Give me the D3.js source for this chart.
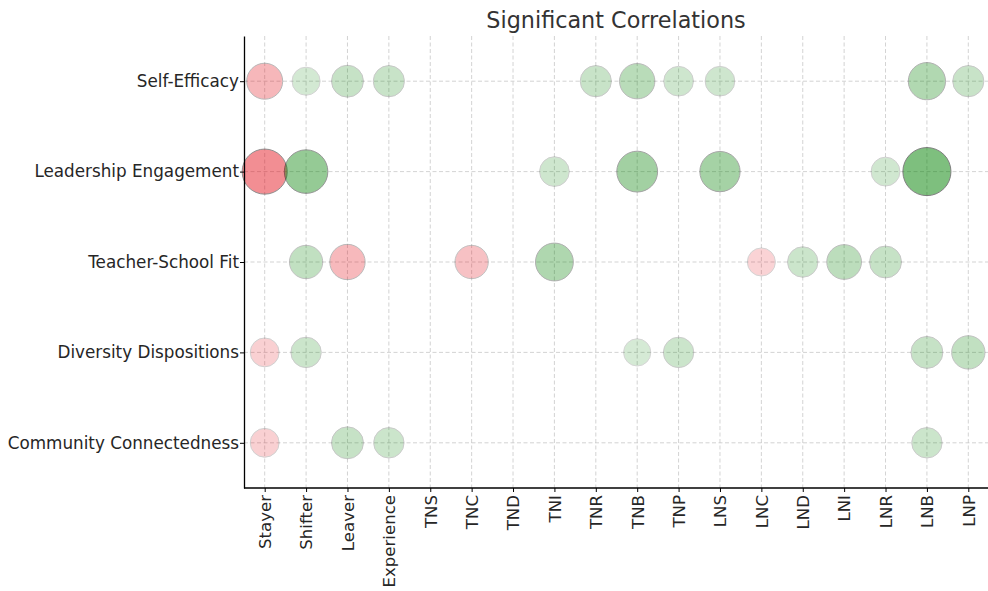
<!DOCTYPE html>
<html>
<head>
<meta charset="utf-8">
<script src="https://cdn.jsdelivr.net/npm/d3@7"></script>
<style>
  body { margin: 0; background: #fff; }
  text { font-family: "DejaVu Sans", sans-serif; }
</style>
</head>
<body>
<div id="chart"></div>
<script>
// Categories
const measures = ["Stayer", "Shifter", "Leaver", "Experience", "TNS", "TNC", "TND", "TNI", "TNR",
                  "TNB", "TNP", "LNS", "LNC", "LND", "LNI", "LNR", "LNB", "LNP"];
const constructs = ["Self-Efficacy", "Leadership Engagement", "Teacher-School Fit",
                    "Diversity Dispositions", "Community Connectedness"];

// Correlation per construct (null = not significant), in measure order
const selfEfficacy   = [-0.28, 0.17, 0.22, 0.21, null, null, null, null, 0.21, 0.27, 0.19, 0.19, null, null, null, null, 0.30, 0.21];
const leadership     = [-0.44, 0.41, null, null, null, null, null, 0.19, null, 0.36, null, 0.35, null, null, null, 0.18, 0.50, null];
const schoolFit      = [null, 0.24, -0.27, null, null, -0.24, null, 0.31, null, null, null, null, -0.17, 0.20, 0.26, 0.22, null, null];
const diversity      = [-0.18, 0.20, null, null, null, null, null, null, null, 0.16, 0.20, null, null, null, null, null, 0.22, 0.24];
const community      = [-0.18, null, 0.22, 0.20, null, null, null, null, null, null, null, null, null, null, null, null, 0.20, null];

const rows = [selfEfficacy, leadership, schoolFit, diversity, community];

const W = 988, H = 591;
const margin = { top: 36, right: -1, bottom: 103, left: 244 };

const svg = d3.select("#chart").append("svg")
  .attr("width", W)
  .attr("height", H);

const x = d3.scalePoint()
  .domain(measures)
  .range([margin.left, W - margin.right])
  .padding(0.5);

const y = d3.scalePoint()
  .domain(constructs)
  .range([margin.top, H - margin.bottom])
  .padding(0.5);

const r = d3.scaleSqrt().domain([0, 1]).range([0, 34]);

// grid
const grid = svg.append("g");
grid.selectAll("line.gx")
  .data(measures)
  .enter().append("line")
    .attr("x1", d => x(d)).attr("x2", d => x(d))
    .attr("y1", margin.top).attr("y2", H - margin.bottom)
    .attr("stroke", "#c8c8c8").attr("stroke-width", 0.8)
    .attr("stroke-dasharray", "4,2.5");
grid.selectAll("line.gy")
  .data(constructs)
  .enter().append("line")
    .attr("x1", margin.left).attr("x2", W)
    .attr("y1", d => y(d)).attr("y2", d => y(d))
    .attr("stroke", "#c8c8c8").attr("stroke-width", 0.8)
    .attr("stroke-dasharray", "4,2.5");

// bubbles
const points = [];
rows.forEach((vals, i) => {
  vals.forEach((v, j) => {
    if (v !== null) points.push({ c: constructs[i], m: measures[j], v });
  });
});

svg.append("g")
  .selectAll("circle")
  .data(points)
  .enter().append("circle")
    .attr("cx", d => x(d.m))
    .attr("cy", d => y(d.c))
    .attr("r", d => r(Math.abs(d.v)))
    .attr("fill", d => d.v < 0 ? "#e2000c" : "#008000")
    .attr("stroke", "#000")
    .attr("stroke-width", 1)
    .attr("opacity", d => Math.abs(d.v));

// axes
const xAxis = svg.append("g")
  .attr("transform", `translate(0,${H - margin.bottom})`)
  .call(d3.axisBottom(x).tickSize(4).tickSizeOuter(0));
xAxis.select(".domain").attr("d", `M${margin.left},0H${W}`).attr("stroke-width", 1.3);
xAxis.selectAll("text")
  .attr("transform", "rotate(-90)")
  .attr("text-anchor", "end")
  .attr("x", -7)
  .attr("y", 0)
  .attr("dy", "0.35em")
  .style("font-size", "16.6px")
  .style("font-family", "DejaVu Sans")
  .attr("fill", "#262626");

const yAxis = svg.append("g")
  .attr("transform", `translate(${margin.left},0)`)
  .call(d3.axisLeft(y).tickSize(4).tickSizeOuter(0));
yAxis.select(".domain").attr("stroke-width", 1.3);
yAxis.selectAll("text")
  .attr("x", -5)
  .style("font-size", "16.8px")
  .style("font-family", "DejaVu Sans")
  .attr("fill", "#262626");

// title
svg.append("text")
  .attr("x", (margin.left + W) / 2)
  .attr("y", 28)
  .attr("text-anchor", "middle")
  .style("font-size", "22.3px")
  .attr("fill", "#333")
  .text("Significant Correlations");
</script>
</body>
</html>
